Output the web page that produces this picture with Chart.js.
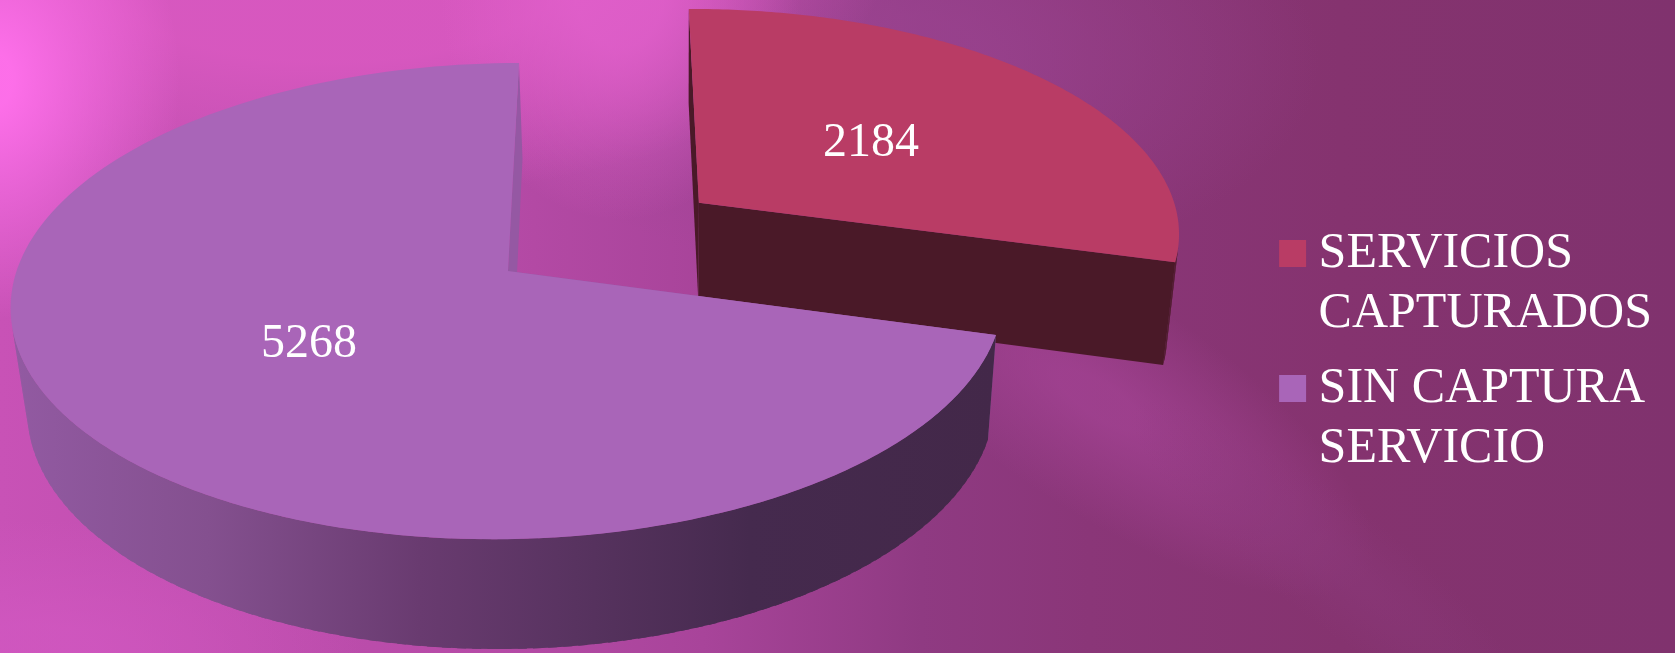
<!DOCTYPE html>
<html>
<head>
<meta charset="utf-8">
<style>
  html, body { margin: 0; padding: 0; background: #83326f; }
  #wrap { width: 1675px; height: 653px; position: relative; overflow: hidden; }
</style>
<script src="https://cdn.jsdelivr.net/npm/chart.js@4/dist/chart.umd.min.js"></script>
</head>
<body>
<div id="wrap"><canvas id="chart" width="1675" height="653"></canvas></div>
<script>
const categories = [['SERVICIOS', 'CAPTURADOS'], ['SIN CAPTURA', 'SERVICIO']];
const values = [2184, 5268];
const sliceColors = ['#b93c65', '#a965b8'];
const explode = [0.496, 0];

const serif = '"Liberation Serif", serif';

// camera: pie plane (radius 1) to screen, fitted to the reference
const H = [[491.7, -76.6, 508], [-1.135, 200.1, 271], [-0.001, -0.1264, 1]];
// extrusion direction, vanishes far below the pie
const V = [17, 112.15, 0.025];

function project(wx, wy, z) {
  const X = H[0][0] * wx + H[0][1] * wy + H[0][2] + V[0] * z;
  const Y = H[1][0] * wx + H[1][1] * wy + H[1][2] + V[1] * z;
  const W = H[2][0] * wx + H[2][1] * wy + H[2][2] + V[2] * z;
  return [X / W, Y / W];
}

function sliceCenter(arc, i) {
  const mid = (arc.startAngle + arc.endAngle) / 2;
  return [Math.cos(mid) * explode[i], Math.sin(mid) * explode[i]];
}

function tracePoints(ctx, pts) {
  ctx.beginPath();
  pts.forEach((p, i) => (i ? ctx.lineTo(p[0], p[1]) : ctx.moveTo(p[0], p[1])));
  ctx.closePath();
}

function signedArea(pts) {
  let sum = 0;
  pts.forEach((p, i) => {
    const q = pts[(i + 1) % pts.length];
    sum += p[0] * q[1] - q[0] * p[1];
  });
  return sum;
}

function rimPoint(arc, i, t, z) {
  const c = sliceCenter(arc, i);
  const a = arc.startAngle + (arc.endAngle - arc.startAngle) * t;
  return project(c[0] + Math.cos(a), c[1] + Math.sin(a), z);
}

// soft elliptical patch of colour for the backdrop
function glow(ctx, cx, cy, rx, ry, rot, rgb, alpha, flat) {
  ctx.save();
  ctx.translate(cx, cy);
  ctx.rotate(rot * Math.PI / 180);
  ctx.scale(rx, ry);
  const g = ctx.createRadialGradient(0, 0, 0, 0, 0, 1);
  g.addColorStop(0, 'rgba(' + rgb + ',' + alpha + ')');
  g.addColorStop(flat, 'rgba(' + rgb + ',' + alpha + ')');
  g.addColorStop(1, 'rgba(' + rgb + ',0)');
  ctx.fillStyle = g;
  ctx.beginPath();
  ctx.arc(0, 0, 1, 0, Math.PI * 2);
  ctx.fill();
  ctx.restore();
}

const rimWall = [
  [[0, '#4a1928'], [1, '#4a1928']],
  [[0, '#925aa2'], [0.2, '#84508f'], [0.415, '#693b70'], [0.75, '#452a4e'], [1, '#432849']]
];
const cutWall = ['#4a1928', '#9558a3'];

const pie3d = {
  id: 'pie3d',
  beforeDraw(chart) {
    const { ctx, width, height } = chart;
    ctx.save();
    const g = ctx.createLinearGradient(0, 0, width, 0);
    g.addColorStop(0, '#c852b6');
    g.addColorStop(0.3, '#b54aa6');
    g.addColorStop(0.42, '#a8449a');
    g.addColorStop(0.55, '#8f3a82');
    g.addColorStop(0.65, '#8a3678');
    g.addColorStop(0.8, '#85336f');
    g.addColorStop(1, '#80326e');
    ctx.fillStyle = g;
    ctx.fillRect(0, 0, width, height);
    glow(ctx, 900, 60, 420, 220, 0, '155,68,145', 0.7, 0.2);
    glow(ctx, 330, -50, 560, 250, 0, '216,88,192', 0.95, 0.45);
    glow(ctx, 620, -10, 180, 230, 0, '226,96,204', 0.8, 0.25);
    glow(ctx, -10, 80, 190, 240, 0, '255,112,235', 0.95, 0.12);
    glow(ctx, 30, 650, 330, 130, 0, '210,88,194', 0.7, 0.2);
    glow(ctx, 1100, 400, 320, 110, 33, '170,70,155', 0.6, 0.15);
    glow(ctx, 1330, 560, 250, 60, 38, '140,58,125', 0.4, 0.2);
    ctx.restore();
  },
  beforeDatasetsDraw(chart) {
    const ctx = chart.ctx;
    const arcs = chart.getDatasetMeta(0).data;
    ctx.save();
    arcs.forEach((arc, i) => {
      const c = sliceCenter(arc, i);
      // straight cut walls
      ctx.fillStyle = cutWall[i];
      [0, 1].forEach(t => {
        tracePoints(ctx, [
          project(c[0], c[1], 0),
          rimPoint(arc, i, t, 0),
          rimPoint(arc, i, t, 1),
          project(c[0], c[1], 1)
        ]);
        ctx.fill();
      });
      // outer wall, only the strips that face the viewer
      const g = ctx.createLinearGradient(11, 0, 996, 0);
      rimWall[i].forEach(s => g.addColorStop(s[0], s[1]));
      ctx.fillStyle = g;
      const n = 160;
      for (let k = 0; k < n; k++) {
        const next = Math.min((k + 1.6) / n, 1);
        const quad = [
          rimPoint(arc, i, k / n, 0),
          rimPoint(arc, i, next, 0),
          rimPoint(arc, i, next, 1),
          rimPoint(arc, i, k / n, 1)
        ];
        if (signedArea(quad) < 0) {
          tracePoints(ctx, quad);
          ctx.fill();
        }
      }
      // top face
      const top = [project(c[0], c[1], 0)];
      for (let k = 0; k <= n; k++) top.push(rimPoint(arc, i, k / n, 0));
      tracePoints(ctx, top);
      ctx.fillStyle = sliceColors[i];
      ctx.fill();
    });
    ctx.restore();
  },
  afterDatasetsDraw(chart) {
    const ctx = chart.ctx;
    const arcs = chart.getDatasetMeta(0).data;
    ctx.save();
    ctx.fillStyle = '#ffffff';
    ctx.font = '48px ' + serif;
    ctx.textAlign = 'center';
    ctx.textBaseline = 'middle';
    arcs.forEach((arc, i) => {
      const c = sliceCenter(arc, i);
      const mid = (arc.startAngle + arc.endAngle) / 2;
      const p = project(c[0] + Math.cos(mid) * 0.48, c[1] + Math.sin(mid) * 0.48, 0);
      ctx.fillText(String(values[i]), p[0], p[1] + 2);
    });
    ctx.restore();
  }
};

new Chart(document.getElementById('chart'), {
  type: 'pie',
  data: {
    labels: categories,
    datasets: [{
      data: values,
      backgroundColor: 'rgba(0,0,0,0)',
      borderWidth: 0
    }]
  },
  options: {
    responsive: false,
    animation: false,
    rotation: 0,
    layout: { padding: { top: 59, right: 13 } },
    plugins: {
      tooltip: { enabled: false },
      legend: {
        position: 'right',
        labels: {
          usePointStyle: true,
          boxWidth: 2,
          boxHeight: 27,
          color: '#ffffff',
          padding: 15,
          font: { family: serif, size: 50, lineHeight: 1.2 },
          generateLabels() {
            return categories.map((text, i) => ({
              text,
              fillStyle: sliceColors[i],
              strokeStyle: sliceColors[i],
              pointStyle: 'rect',
              fontColor: '#ffffff',
              lineWidth: 0,
              index: i
            }));
          }
        }
      }
    }
  },
  plugins: [pie3d]
});
</script>
</body>
</html>
